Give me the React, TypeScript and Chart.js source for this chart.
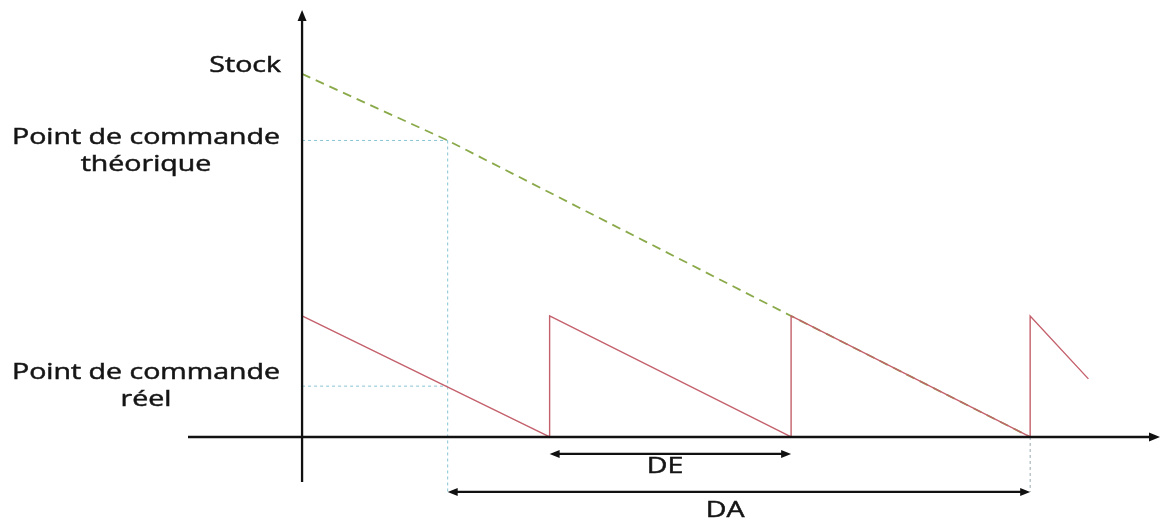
import React, { useEffect, useRef } from "react";
import { Chart, registerables } from "chart.js";

Chart.register(...registerables);

// ---- Data (time units on x, stock units on y) ----
const sawX = [0, 10.2, 10.2, 20.15, 20.15, 30, 30, 32.4];
const sawY = [5, 0, 5, 0, 5, 0, 5, 2.4];

const theoX = [0, 6, 20.15, 30];
const theoY = [15, 12.25, 5, 0];

const orderX = 6; // moment de passage de commande
const theoOrderY = 12.25; // point de commande théorique
const realOrderY = 2.1; // point de commande réel

const labelLines = [["Stock"], ["Point de commande", "théorique"], ["Point de commande", "réel"]];
const labelValues = [15.08, 12.11, 2.4];

const deFrom = 10.2;
const deTo = 20.15;
const daFrom = 6;
const daTo = 30;
const spanNames = ["DE", "DA"];

// ---- Layout / style constants ----
const X_MIN = -4.7;
const X_MAX = 35.35;
const Y_MIN = -3.43;
const Y_MAX = 17.64;
const Y_AXIS_BOTTOM = -1.86;
const DE_LEVEL = -0.7;
const DA_LEVEL = -2.27;
const DE_TEXT = { x: 14.96, y: -1.49 };
const DA_TEXT = { x: 17.43, y: -3.31 };
const FONT = "22px 'Open Sans'";
const LABEL_CENTER_PX = 146;
const LABEL_RIGHT_PX = 281;
const LINE_GAP_PX = 27;

function drawArrowHead(ctx: CanvasRenderingContext2D, x: number, y: number, dir: "up" | "right" | "left", len = 10, half = 4) {
  ctx.beginPath();
  if (dir === "up") {
    ctx.moveTo(x, y);
    ctx.lineTo(x - half, y + len);
    ctx.lineTo(x + half, y + len);
  } else if (dir === "right") {
    ctx.moveTo(x, y);
    ctx.lineTo(x - len, y - half);
    ctx.lineTo(x - len, y + half);
  } else {
    ctx.moveTo(x, y);
    ctx.lineTo(x + len, y - half);
    ctx.lineTo(x + len, y + half);
  }
  ctx.closePath();
  ctx.fill();
}

const diagramPlugin = {
  id: "diagram",
  beforeDatasetsDraw(chart: any) {
    const ctx: CanvasRenderingContext2D = chart.ctx;
    const xs = chart.scales.x;
    const ys = chart.scales.y;
    const px = (v: number) => xs.getPixelForValue(v);
    const py = (v: number) => ys.getPixelForValue(v);
    ctx.save();
    ctx.strokeStyle = "#86c4d4";
    ctx.lineWidth = 1;
    ctx.setLineDash([3, 3]);
    ctx.beginPath();
    ctx.moveTo(px(0), py(theoOrderY));
    ctx.lineTo(px(orderX), py(theoOrderY));
    ctx.moveTo(px(0), py(realOrderY));
    ctx.lineTo(px(orderX), py(realOrderY));
    ctx.moveTo(px(orderX), py(theoOrderY));
    ctx.lineTo(px(orderX), py(DA_LEVEL));
    ctx.stroke();
    ctx.strokeStyle = "#9aa8b0";
    ctx.beginPath();
    ctx.moveTo(px(daTo), py(0));
    ctx.lineTo(px(daTo), py(DA_LEVEL));
    ctx.stroke();
    ctx.restore();
  },
  afterDatasetsDraw(chart: any) {
    const ctx: CanvasRenderingContext2D = chart.ctx;
    const xs = chart.scales.x;
    const ys = chart.scales.y;
    const px = (v: number) => xs.getPixelForValue(v);
    const py = (v: number) => ys.getPixelForValue(v);
    ctx.save();
    ctx.setLineDash([]);
    ctx.strokeStyle = "#111";
    ctx.fillStyle = "#111";
    ctx.lineWidth = 2.3;
    ctx.beginPath();
    ctx.moveTo(px(0), py(Y_AXIS_BOTTOM));
    ctx.lineTo(px(0), py(Y_MAX) + 6);
    ctx.moveTo(px(X_MIN), py(0));
    ctx.lineTo(px(X_MAX) - 6, py(0));
    ctx.stroke();
    drawArrowHead(ctx, px(0), py(Y_MAX), "up", 11, 4.5);
    drawArrowHead(ctx, px(X_MAX), py(0), "right", 11, 4.5);
    ctx.lineWidth = 2.2;
    const spans = [
      [deFrom, deTo, DE_LEVEL],
      [daFrom, daTo, DA_LEVEL],
    ];
    spans.forEach(([a, b, lvl]) => {
      ctx.beginPath();
      ctx.moveTo(px(a) + 5, py(lvl));
      ctx.lineTo(px(b) - 5, py(lvl));
      ctx.stroke();
      drawArrowHead(ctx, px(a), py(lvl), "left", 10, 4);
      drawArrowHead(ctx, px(b), py(lvl), "right", 10, 4);
    });

    ctx.font = FONT;
    const stretch = 268 / ctx.measureText("Point de commande").width;
    ctx.fillStyle = "#151515";
    ctx.strokeStyle = "#151515";
    ctx.lineWidth = 0.5;
    ctx.textBaseline = "alphabetic";
    const drawText = (t: string, x: number, y: number, align: "left" | "center" | "right") => {
      const w = ctx.measureText(t).width * stretch;
      let left = x;
      if (align === "center") left = x - w / 2;
      if (align === "right") left = x - w;
      ctx.save();
      ctx.translate(left, y);
      ctx.scale(stretch, 1);
      ctx.textAlign = "left";
      ctx.fillText(t, 0, 0);
      ctx.strokeText(t, 0, 0);
      ctx.restore();
    };
    labelLines.forEach((lines, i) => {
      const y0 = py(labelValues[i]);
      if (lines.length === 1) {
        drawText(lines[0], LABEL_RIGHT_PX, y0, "right");
      } else {
        lines.forEach((ln, j) => drawText(ln, LABEL_CENTER_PX, y0 + j * LINE_GAP_PX, "center"));
      }
    });
    drawText(spanNames[0], px(DE_TEXT.x), py(DE_TEXT.y), "center");
    drawText(spanNames[1], px(DA_TEXT.x), py(DA_TEXT.y), "center");
    ctx.restore();
  },
};

export default function App() {
  const ref = useRef<HTMLCanvasElement | null>(null);
  useEffect(() => {
    if (!ref.current) return;
    const chart = new Chart(ref.current, {
      type: "scatter",
      data: {
        datasets: [
          {
            label: "Stock réel",
            data: sawX.map((x, i) => ({ x, y: sawY[i] })),
            showLine: true,
            borderColor: "#c4606c",
            borderWidth: 1.4,
            pointRadius: 0,
            tension: 0,
          },
          {
            label: "Stock théorique",
            data: theoX.map((x, i) => ({ x, y: theoY[i] })),
            showLine: true,
            borderColor: "#8aaa4a",
            borderWidth: 1.8,
            borderDash: [9, 6],
            pointRadius: 0,
            tension: 0,
          },
        ],
      },
      options: {
        animation: false,
        responsive: true,
        maintainAspectRatio: false,
        layout: { padding: { left: 188, right: 8, top: 10, bottom: 0 } },
        plugins: { legend: { display: false }, tooltip: { enabled: false } },
        scales: {
          x: { type: "linear", display: false, min: X_MIN, max: X_MAX },
          y: { type: "linear", display: false, min: Y_MIN, max: Y_MAX },
        },
      },
      plugins: [diagramPlugin],
    });
    return () => chart.destroy();
  }, []);
  return (
    <div style={{ position: "fixed", left: 0, top: 0, width: 1168, height: 520, background: "#fff" }}>
      <canvas ref={ref} />
    </div>
  );
}
